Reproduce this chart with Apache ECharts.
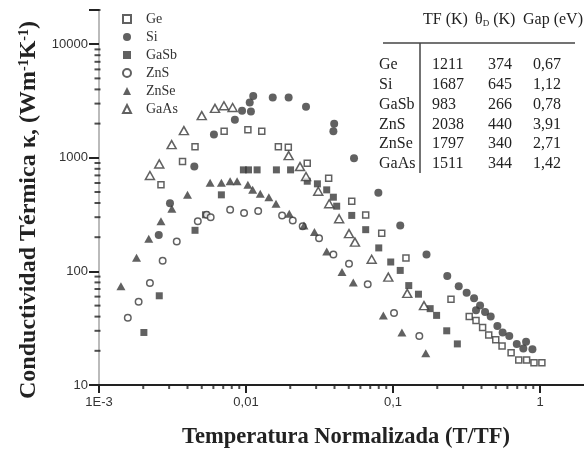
<!DOCTYPE html>
<html><head><meta charset="utf-8">
<script src="https://cdn.jsdelivr.net/npm/echarts@6/dist/echarts.min.js"></script>
<style>html,body{margin:0;padding:0;background:#fff}#c{width:584px;height:449px}</style>
</head><body><div id="c"></div>
<script>
// ---- data ----
const seriesNames = ['Ge', 'Si', 'GaSb', 'ZnS', 'ZnSe', 'GaAs'];
const geData = [[0.00264,578],[0.0037,927],[0.0045,1250],[0.0071,1710],[0.0103,1770],[0.0128,1710],[0.0166,1250],[0.0194,1236],[0.0261,895],[0.0365,661],[0.0524,415],[0.0652,313],[0.0838,217],[0.1225,131],[0.248,57],[0.33,40],[0.367,37],[0.407,32],[0.448,27.5],[0.5,25],[0.552,22],[0.636,19.2],[0.717,16.6],[0.811,16.6],[0.91,15.7],[1.03,15.7]];
const siData = [[0.00255,209],[0.00304,398],[0.00445,837],[0.00605,1600],[0.0084,2160],[0.0094,2600],[0.0108,2550],[0.0106,3070],[0.0112,3500],[0.0152,3400],[0.0195,3400],[0.0256,2810],[0.0393,1710],[0.0398,1990],[0.0543,990],[0.0795,492],[0.112,254],[0.169,141],[0.234,91],[0.28,74],[0.317,65],[0.356,58],[0.391,50],[0.367,45.5],[0.423,44],[0.462,40],[0.513,33],[0.557,29],[0.618,27],[0.695,23],[0.804,24],[0.77,21],[0.888,20.6]];
const gasbData = [[0.00202,29],[0.00257,61],[0.0045,230],[0.0053,315],[0.0068,472],[0.0096,783],[0.0104,783],[0.0119,783],[0.0161,783],[0.0201,783],[0.0261,622],[0.0306,590],[0.0354,522],[0.0393,450],[0.0414,375],[0.0524,311],[0.0652,233],[0.08,161],[0.0965,121],[0.112,102],[0.128,75],[0.149,63],[0.179,47],[0.198,41],[0.232,30],[0.274,23]];
const znsData = [[0.00157,39],[0.00186,54],[0.00222,79],[0.00271,124],[0.00338,183],[0.0047,277],[0.0054,315],[0.00575,300],[0.0078,349],[0.0097,326],[0.0121,341],[0.0176,311],[0.0208,281],[0.0243,250],[0.0314,196],[0.0393,141],[0.0502,117],[0.0673,77],[0.1016,43],[0.151,27]];
const znseData = [[0.00141,74],[0.0018,132],[0.00218,194],[0.00264,277],[0.00313,356],[0.004,472],[0.0057,603],[0.0068,603],[0.0078,622],[0.0087,622],[0.0103,578],[0.0111,522],[0.0125,482],[0.0143,450],[0.016,394],[0.0197,322],[0.0248,254],[0.0292,222],[0.0354,150],[0.045,99],[0.0537,80],[0.086,41],[0.115,29],[0.167,19]];
const gaasData = [[0.00222,698],[0.00257,883],[0.00312,1306],[0.00378,1734],[0.005,2350],[0.00615,2722],[0.00708,2872],[0.00811,2774],[0.0195,1045],[0.0233,837],[0.0256,684],[0.031,508],[0.0368,394],[0.043,291],[0.0502,215],[0.0551,181],[0.0716,128],[0.0929,89],[0.125,64],[0.1625,50]];

const tableHeader = ['TF (K)', '{t|θ}{sub|D}{t| (K)}', 'Gap (eV)'];
const tfValues = ['1211', '1687', '983', '2038', '1797', '1511'];
const thetaValues = ['374', '645', '266', '440', '340', '344'];
const gapValues = ['0,67', '1,12', '0,78', '3,91', '2,71', '1,42'];

const xTickValues = [0.001, 0.01, 0.1, 1];
const xTickLabels = ['1E-3', '0,01', '0,1', '1'];
const yTickValues = [10, 100, 1000, 10000];
const yTickLabels = ['10', '100', '1000', '10000'];
const xMinorTicks = [0.002,0.003,0.004,0.005,0.006,0.007,0.008,0.009,0.02,0.03,0.04,0.05,0.06,0.07,0.08,0.09,0.2,0.3,0.4,0.5,0.6,0.7,0.8,0.9];
const yMinorTicks = [20,30,40,50,60,70,80,90,200,300,400,500,600,700,800,900,2000,3000,4000,5000,6000,7000,8000,9000,20000];

// ---- styles ----
const SERIF = "'Liberation Serif', 'Times New Roman', serif";
const SANS = "'Liberation Sans', Arial, sans-serif";
const INK = '#3a3a3a';
const open = {color: '#fff', borderColor: INK, borderWidth: 1.5};
const filled = {color: INK};

function labelFor(values, labels) {
  return function (v) {
    for (let i = 0; i < values.length; i++) {
      if (Math.abs(Math.log10(v) - Math.log10(values[i])) < 1e-6) return labels[i];
    }
    return '';
  };
}

const seriesDefs = [
  {data: geData, symbol: 'rect', size: 6, style: open},
  {data: siData, symbol: 'circle', size: 8, style: filled},
  {data: gasbData, symbol: 'rect', size: 7, style: filled},
  {data: znsData, symbol: 'circle', size: 6.5, style: open},
  {data: znseData, symbol: 'triangle', size: [9, 8], style: filled},
  {data: gaasData, symbol: 'triangle', size: [9, 8], style: open}
];

const series = seriesDefs.map((d, i) => ({
  type: 'scatter', name: seriesNames[i], data: d.data,
  symbol: d.symbol, symbolSize: d.size, itemStyle: d.style, z: 3
}));
series.push({
  type: 'scatter', name: '_xminor', silent: true, clip: false, z: 1,
  data: xMinorTicks.map(v => [v, 10]), symbol: 'rect', symbolSize: [2, 4], symbolOffset: [0, 2],
  itemStyle: {color: '#222'}
});
series.push({
  type: 'scatter', name: '_yminor', silent: true, clip: false, z: 1,
  data: yMinorTicks.map(v => [0.001, v]), symbol: 'rect', symbolSize: [6, 2], symbolOffset: [-1.5, 0],
  itemStyle: {color: '#222'}
});

// ---- table (graphic text) ----
const rowY0 = 65, rowStep = 19.8;
const colX = [379, 432, 488, 533];
const headX = [423, 475, 523];
const tableEls = [];
const tStyle = {fontFamily: SERIF, fontSize: 16, fill: '#222'};
tableHeader.forEach((h, i) => {
  tableEls.push({type: 'text', x: headX[i], y: 20, style: Object.assign({}, tStyle, {
    text: h, verticalAlign: 'middle',
    rich: {t: {fontFamily: SERIF, fontSize: 16, fill: '#222'}, sub: {fontFamily: SERIF, fontSize: 9, fill: '#222', verticalAlign: 'bottom'}}
  })});
});
tableEls.push({type: 'line', shape: {x1: 383, y1: 43, x2: 575, y2: 43}, style: {stroke: '#444', lineWidth: 1.5}});
tableEls.push({type: 'line', shape: {x1: 420, y1: 43, x2: 420, y2: 173}, style: {stroke: '#444', lineWidth: 1.5}});
seriesNames.forEach((n, r) => {
  const cells = [n, tfValues[r], thetaValues[r], gapValues[r]];
  cells.forEach((c, k) => {
    tableEls.push({type: 'text', x: colX[k], y: rowY0 + r * rowStep, style: Object.assign({}, tStyle, {text: c, verticalAlign: 'middle'})});
  });
});

const chart = echarts.init(document.getElementById('c'), null, {renderer: 'canvas'});
chart.setOption({
  animation: false,
  backgroundColor: '#fff',
  grid: {left: 99, right: -103, top: 10, bottom: 64, containLabel: false, outerBoundsMode: 'none'},
  legend: {
    data: seriesNames, orient: 'vertical', left: 122, top: 12, padding: 0,
    itemWidth: 8, itemHeight: 8, itemGap: 4, selectedMode: false,
    textStyle: {fontFamily: SERIF, fontSize: 14, color: '#333', lineHeight: 14, padding: [0, 0, 0, 10]}
  },
  xAxis: {
    type: 'log', logBase: 10, min: 0.001, max: 10,
    name: 'Temperatura Normalizada (T/TF)', nameLocation: 'middle', nameGap: 41,
    nameTextStyle: {fontFamily: SERIF, fontWeight: 'bold', fontSize: 22.5, color: '#222', padding: [0, 94, 0, 0]},
    axisLine: {lineStyle: {color: '#222', width: 2}},
    axisTick: {length: 8, lineStyle: {color: '#222', width: 2}},
    axisLabel: {margin: 11, fontFamily: SANS, fontSize: 13, color: '#333', formatter: labelFor(xTickValues, xTickLabels)},
    splitLine: {show: false}
  },
  yAxis: {
    type: 'log', logBase: 10, min: 10, max: 20000,
    name: 'Conductividad Térmica κ, (Wm{sup|-1}K{sup|-1})', nameLocation: 'middle', nameGap: 57,
    nameTextStyle: {fontFamily: SERIF, fontWeight: 'bold', fontSize: 24, color: '#222', padding: [0, 25, 0, 0],
      rich: {sup: {fontFamily: SERIF, fontWeight: 'bold', fontSize: 14, color: '#222', verticalAlign: 'top'}}},
    axisLine: {lineStyle: {color: '#bbb', width: 2}},
    axisTick: {length: 10, lineStyle: {color: '#222', width: 2}},
    axisLabel: {margin: 11, fontFamily: SANS, fontSize: 13, color: '#333', formatter: labelFor(yTickValues, yTickLabels)},
    splitLine: {show: false}
  },
  graphic: tableEls,
  series: series
});
</script></body></html>
